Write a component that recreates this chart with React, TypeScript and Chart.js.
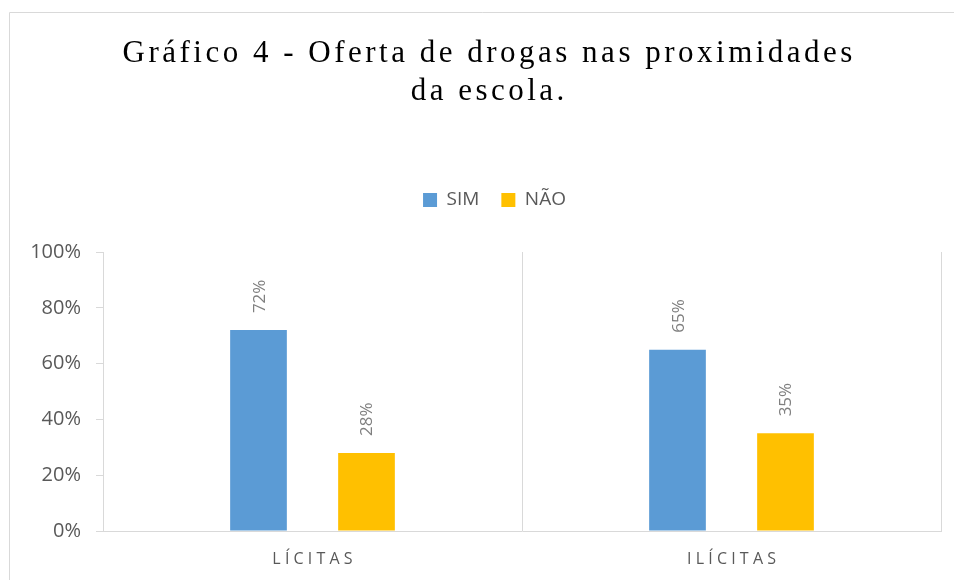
import React, { useEffect, useRef } from 'react';
import { Chart, registerables } from 'chart.js';

Chart.register(...registerables);

const categories = ['LÍCITAS', 'ILÍCITAS'];
const seriesNames = ['SIM', 'NÃO'];
const simValues = [72, 65];
const naoValues = [28, 35];
const yTicks = [0, 20, 40, 60, 80, 100];
const titleLines = ['Gráfico 4 - Oferta de drogas nas proximidades', 'da escola.'];
const seriesColors = ['#5B9BD5', '#FFC000'];

const TITLE_CX = 487.5;
const TITLE_BASE = 62;
const TITLE_LH = 38;
const TITLE_LS = 3.5;
const XLABEL_LS = 4.2;
const LEGEND_SHIFT = 12;

const framePlugin = {
  id: 'frame',
  beforeDraw(chart: any) {
    const ctx = chart.ctx;
    ctx.save();
    ctx.strokeStyle = '#d9d9d9';
    ctx.lineWidth = 1;
    ctx.beginPath();
    ctx.moveTo(9.5, chart.height + 2);
    ctx.lineTo(9.5, 12.5);
    ctx.lineTo(chart.width + 2, 12.5);
    ctx.stroke();
    ctx.restore();
  },
};

const legendShiftPlugin = {
  id: 'legendShift',
  afterLayout(chart: any) {
    if (chart.legend) {
      chart.legend.left += LEGEND_SHIFT;
      chart.legend.right += LEGEND_SHIFT;
    }
  },
};

const textPlugin = {
  id: 'texts',
  afterDatasetsDraw(chart: any) {
    const ctx = chart.ctx;
    chart.data.datasets.forEach((ds: any, di: number) => {
      const meta = chart.getDatasetMeta(di);
      meta.data.forEach((bar: any, i: number) => {
        ctx.save();
        ctx.translate(bar.x, bar.y - 17);
        ctx.rotate(-Math.PI / 2);
        ctx.font = '17px "Open Sans"';
        ctx.fillStyle = '#7f7f7f';
        ctx.textAlign = 'left';
        ctx.textBaseline = 'alphabetic';
        ctx.fillText(ds.data[i] + '%', 0, 6);
        ctx.restore();
      });
    });
  },
  afterDraw(chart: any) {
    const ctx = chart.ctx;
    // title
    ctx.save();
    ctx.font = '31px "Liberation Serif"';
    ctx.fillStyle = '#000000';
    (ctx as any).letterSpacing = TITLE_LS + 'px';
    ctx.textAlign = 'left';
    ctx.textBaseline = 'alphabetic';
    titleLines.forEach((line, i) => {
      const w = ctx.measureText(line).width - TITLE_LS;
      ctx.fillText(line, TITLE_CX - w / 2, TITLE_BASE + i * TITLE_LH);
    });
    ctx.restore();
    // category labels
    const xs = chart.scales.x;
    ctx.save();
    ctx.font = '16px "Open Sans"';
    ctx.fillStyle = '#595959';
    (ctx as any).letterSpacing = XLABEL_LS + 'px';
    ctx.textAlign = 'left';
    ctx.textBaseline = 'alphabetic';
    categories.forEach((c, i) => {
      const x = xs.getPixelForValue(i);
      const w = ctx.measureText(c).width - XLABEL_LS;
      ctx.fillText(c, x - w / 2, chart.chartArea.bottom + 33);
    });
    ctx.restore();
  },
};

export default function App() {
  const ref = useRef<HTMLCanvasElement>(null);
  useEffect(() => {
    if (!ref.current) return;
    Chart.defaults.font.family = '"Open Sans"';
    const chart = new Chart(ref.current, {
      type: 'bar',
      data: {
        labels: categories,
        datasets: [
          {
            label: seriesNames[0],
            data: simValues,
            backgroundColor: seriesColors[0],
            borderWidth: 0,
            categoryPercentage: 0.5155,
            barPercentage: 0.525,
          },
          {
            label: seriesNames[1],
            data: naoValues,
            backgroundColor: seriesColors[1],
            borderWidth: 0,
            categoryPercentage: 0.5155,
            barPercentage: 0.525,
          },
        ],
      },
      options: {
        animation: false,
        responsive: false,
        devicePixelRatio: 1,
        layout: { padding: { top: 168.5, left: 24, right: 13, bottom: 0 } },
        plugins: {
          tooltip: { enabled: false },
          title: { display: false },
          subtitle: {
            display: true,
            text: '',
            weight: 500,
            padding: 0,
            font: { size: 32.5, lineHeight: 1 },
          } as any,
          legend: {
            display: true,
            position: 'top',
            labels: {
              boxWidth: 14,
              boxHeight: 14,
              padding: 22,
              color: '#595959',
              font: { family: '"Open Sans"', size: 19 },
            },
          },
        },
        scales: {
          x: {
            offset: true,
            grid: { offset: true, drawTicks: false, color: '#d9d9d9', lineWidth: 1 },
            border: { display: true, color: '#d9d9d9' },
            ticks: { display: false },
            afterFit: (s: any) => {
              s.height = 49;
            },
          },
          y: {
            min: 0,
            max: 100,
            afterBuildTicks: (s: any) => {
              s.ticks = yTicks.map((v) => ({ value: v }));
            },
            afterFit: (s: any) => {
              s.width = 79;
            },
            ticks: {
              callback: (v: any) => v + '%',
              color: '#595959',
              padding: 15,
              font: { family: '"Open Sans"', size: 20 },
            },
            grid: { drawOnChartArea: false, drawTicks: true, tickLength: 7, color: '#d9d9d9' },
            border: { display: true, color: '#d9d9d9' },
          },
        },
      },
      plugins: [framePlugin, legendShiftPlugin, textPlugin],
    });
    return () => chart.destroy();
  }, []);
  return (
    <div style={{ position: 'fixed', left: 0, top: 0, width: 954, height: 580 }}>
      <canvas ref={ref} width={954} height={580} style={{ display: 'block' }} />
    </div>
  );
}
